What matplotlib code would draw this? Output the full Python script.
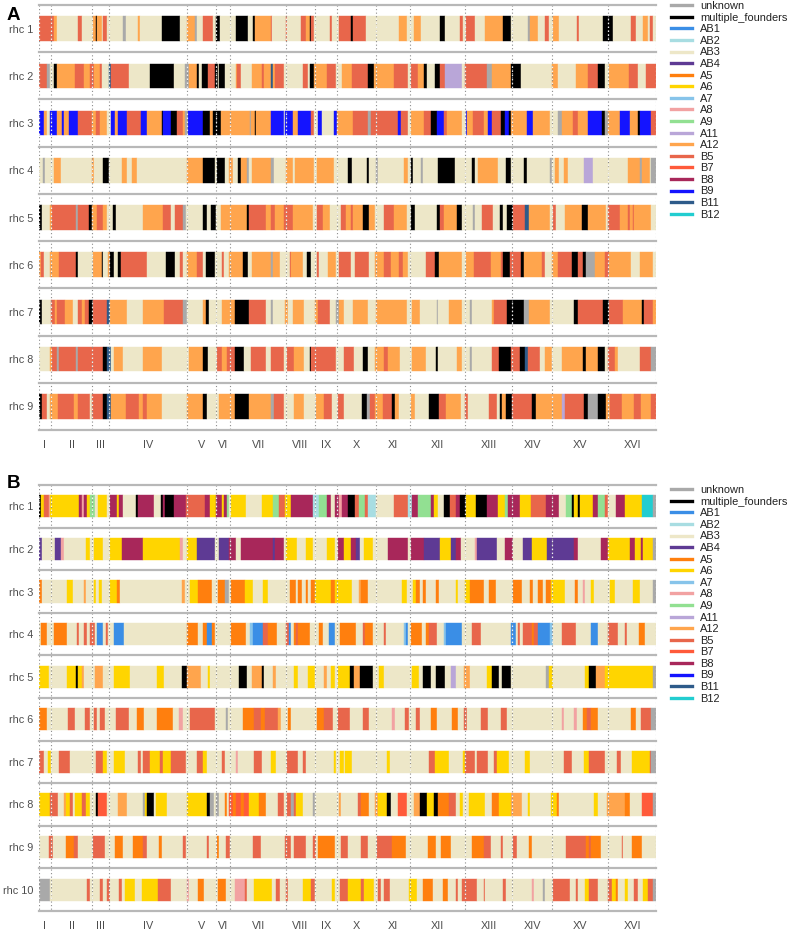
import numpy as np
import matplotlib
matplotlib.use('Agg')
import matplotlib.pyplot as plt
from matplotlib.lines import Line2D

plt.rcParams['font.family'] = ['Liberation Sans', 'DejaVu Sans']

# yeast chromosomes, lengths in Mb
chrom_names = ['I', 'II', 'III', 'IV', 'V', 'VI', 'VII', 'VIII', 'IX', 'X',
               'XI', 'XII', 'XIII', 'XIV', 'XV', 'XVI']
chrom_len = [0.230, 0.813, 0.317, 1.532, 0.577, 0.270, 1.091, 0.563, 0.440,
             0.746, 0.667, 1.078, 0.924, 0.784, 1.091, 0.948]

founders = ['unknown', 'multiple_founders', 'AB1', 'AB2', 'AB3', 'AB4', 'A5',
            'A6', 'A7', 'A8', 'A9', 'A11', 'A12', 'B5', 'B7', 'B8', 'B9',
            'B11', 'B12']
founder_codes = 'UMPQZVOYKIGLCRSTBDE'
founder_colors = ['#a9a9a9', '#000000', '#3a8ee6', '#a8dde2', '#ede7c8',
                  '#5e3a94', '#ff7f0e', '#ffd500', '#87c4ea', '#f2a2a2',
                  '#92e092', '#b9a6d8', '#ffa54d', '#e8664b', '#ff5a3a',
                  '#a8275a', '#1414ff', '#2e5b8a', '#22cdd0']

# mosaic tracks: founder code followed by segment end (Mb, genome coordinate)
panel_a = [
    "R.30 C.36 Z.77 R.84 Z1.05 C1.12 M1.14 C1.23 Z1.26 R1.33 Z1.65 U1.70 Z1.94 C1.98 Z2.40 M2.76 Z2.90 C3.05 U3.09 Z3.21 R3.41 Z3.46 M3.54 Z3.85 M4.09 Z4.19 M4.23 C4.53 R4.56 Z4.83 R4.85 Z5.13 R5.22 C5.29 M5.32 R5.37 Z5.68 R5.72 Z5.87 R6.10 M6.14 R6.39 Z7.04 C7.20 Z7.34 C7.46 Z7.84 M7.93 Z8.23 R8.28 Z8.34 R8.53 Z8.72 C9.08 M9.23 Z9.55 U9.60 C9.76 Z9.90 R9.96 Z10.05 C10.16 Z10.51 R10.55 Z11.03 M11.22 Z11.58 R11.68 Z11.81 C11.91 Z11.94 R12.00 Z12.07",
    "R.16 U.21 Z.30 M.36 C.71 R.87 C1.00 R1.08 C1.20 R1.23 Z1.36 D1.40 R1.75 Z2.17 M2.63 Z2.85 U2.94 C3.08 M3.13 Z3.18 M3.31 R3.44 M3.50 Z3.52 M3.63 Z3.85 C3.87 R3.94 Z4.16 C4.36 R4.39 C4.53 D4.57 C4.62 R4.79 Z5.16 R5.26 Z5.30 M5.37 C5.63 R5.81 Z5.92 C6.11 R6.44 M6.54 C6.93 R7.22 Z7.27 R7.40 C7.52 M7.58 Z7.74 M7.84 R7.94 L8.27 Z8.32 R8.75 U8.85 C9.23 M9.42 Z10.02 C10.14 Z10.49 C10.74 R10.93 M11.07 Z11.14 C11.53 R11.71 Z11.87 R12.07",
    "B.10 C.16 Z.22 B.35 C.45 B.49 C.58 B.77 R1.03 C1.12 R1.20 C1.33 Z1.40 B1.49 C1.54 B1.72 R1.99 B2.12 C2.40 M2.43 B2.59 M2.69 R2.81 C2.85 U2.92 B3.21 M3.34 C3.41 M3.55 C4.12 U4.15 C4.22 M4.24 C4.53 B4.79 Z4.81 B4.96 C5.07 B5.31 R5.37 Z5.46 B5.53 Z5.76 B5.83 C6.13 R6.44 U6.49 R7.02 B7.08 R7.22 Z7.27 C7.53 R7.66 M7.78 B7.92 R7.98 C8.27 Z8.34 B8.36 C8.49 R8.69 C8.77 B8.86 R9.03 M9.10 B9.19 M9.23 C9.53 B9.65 C9.99 Z10.15 U10.23 C10.44 R10.54 C10.74 B11.00 M11.06 U11.13 C11.35 B11.55 C11.70 M11.74 B11.97 R12.07",
    "Z.08 U.11 Z.30 C.43 Z1.03 C1.08 Z1.26 M1.36 Z1.62 C1.72 Z1.81 C1.91 Z2.89 C3.20 M3.44 Z3.47 M3.63 Z3.72 C3.80 Z3.89 M3.94 C4.07 U4.10 Z4.16 C4.54 U4.59 Z4.83 C4.96 Z5.01 C5.37 Z5.44 C5.76 Z6.05 M6.11 Z6.41 M6.46 Z6.59 U6.62 Z7.13 C7.22 Z7.27 M7.32 Z7.46 U7.50 Z7.80 M8.14 Z8.46 M8.53 Z8.59 C8.97 Z9.12 M9.23 Z9.49 M9.53 Z9.99 U10.02 Z10.09 C10.16 Z10.27 C10.35 Z10.66 L10.83 Z11.52 C11.74 U11.78 C11.94 Z11.97 U12.07",
    "M.06 Z.22 C.25 R.73 U.77 R.97 M1.03 C1.13 R1.26 C1.33 Z1.44 M1.51 Z2.04 C2.43 R2.59 Z2.66 R2.82 U2.87 Z3.21 M3.29 Z3.37 M3.46 Z3.55 C4.07 M4.10 R4.44 C4.54 R4.61 C4.79 R4.96 C5.35 Z5.44 R5.55 C5.68 Z5.91 R6.00 C6.09 R6.13 C6.33 M6.46 C6.57 Z6.75 R6.93 C7.19 Z7.27 M7.35 Z7.78 M7.84 R7.92 C8.17 M8.27 Z8.49 U8.53 Z8.66 R8.88 Z9.01 M9.08 Z9.14 M9.27 R9.50 D9.57 C9.99 Z10.05 R10.10 Z10.28 C10.62 M10.74 C11.09 Z11.13 R11.35 C11.52 R11.55 C11.61 R11.63 C11.97 Z12.07",
    "C.04 R.09 Z.22 C.40 R.73 M.77 Z1.05 C1.23 M1.26 Z1.34 C1.39 M1.47 Z1.55 M1.60 R2.11 Z2.48 M2.66 Z2.76 R2.82 Z2.89 C3.08 R3.21 Z3.26 M3.44 Z3.57 R3.61 Z3.72 C3.99 M4.09 Z4.16 C4.53 U4.57 C4.72 Z4.90 R4.93 C5.16 Z5.24 M5.32 Z5.44 R5.48 Z5.65 C5.81 Z5.87 R6.10 Z6.17 R6.46 Z6.56 C6.75 R6.88 C7.04 R7.11 C7.22 Z7.56 R7.74 M7.82 C8.27 Z8.34 C8.51 R8.84 C9.03 R9.08 M9.21 R9.42 M9.49 C9.83 R9.90 Z10.02 C10.15 R10.42 M10.53 R10.64 M10.70 U10.87 C11.07 R11.14 C11.58 Z11.74 C12.00 Z12.07",
    "M.06 Z.23 R.32 C.36 R.51 C.66 Z.77 R.84 C.90 R.97 M1.05 R1.33 D1.39 C1.72 Z2.04 C2.44 R2.82 U2.89 Z3.20 C3.26 M3.33 Z3.57 C3.83 M4.10 R4.44 Z4.54 U4.57 Z4.81 C4.86 Z4.96 C5.19 Z5.39 C5.45 R5.68 Z5.81 U5.87 C5.97 Z6.13 C6.44 Z6.59 C7.20 Z7.30 C7.45 Z7.78 U7.80 Z8.02 C8.27 Z8.43 U8.46 Z8.85 C8.90 R9.14 M9.49 U9.58 C9.99 Z10.46 M10.54 R11.03 M11.14 R11.42 C11.78 M11.83 R12.00 C12.07",
    "Z.22 C.25 R.36 U.40 R.73 U.77 R1.26 M1.33 D1.40 Z1.47 C1.65 Z2.03 C2.40 Z2.94 C3.21 M3.31 Z3.47 R3.57 C3.67 R3.83 M4.00 Z4.15 R4.44 Z4.54 R4.79 Z4.85 R4.98 C5.19 Z5.29 M5.32 R5.81 Z5.97 R6.15 Z6.33 M6.44 Z6.57 C6.75 R6.83 C7.06 Z7.30 C7.56 Z7.76 M7.80 Z8.17 C8.27 Z8.43 U8.46 Z8.85 R8.99 M9.23 R9.40 M9.50 D9.55 R9.79 Z9.89 C10.02 Z10.22 C10.64 M10.70 C10.93 M11.07 Z11.13 R11.26 C11.32 Z11.74 R11.97 U12.07",
    "M.06 R.16 Z.22 C.38 R.68 C.77 R.99 Z1.03 R1.26 M1.33 D1.40 C1.70 R1.96 C2.03 R2.11 C2.40 Z2.89 C3.21 M3.28 Z3.52 C3.83 M4.10 C4.54 U4.59 R4.79 Z4.99 C5.19 Z5.42 C5.58 R5.72 Z5.84 R5.97 Z6.31 M6.41 U6.48 R6.56 C6.72 R6.91 M6.96 C7.04 Z7.27 C7.35 Z7.63 M7.82 R7.95 C8.25 Z8.33 R8.38 Z8.80 R8.95 Z9.01 M9.06 C9.12 M9.24 R9.63 M9.71 C10.22 L10.28 R10.66 M10.74 U10.93 M11.09 C11.16 R11.39 C11.63 R11.76 C11.97 R12.07",
]

panel_b = [
    "M.04 Y.09 R.19 I.22 Y.79 T.84 I.87 T.94 Y1.00 G1.10 Z1.16 Y1.33 Z1.38 T1.52 Y1.57 T1.64 Z1.90 M1.94 T2.24 Z2.38 M2.43 T2.46 M2.64 T2.87 R3.24 T3.34 Y3.46 T3.57 Y3.61 T3.67 G3.72 Z3.76 Y4.05 Z4.35 Y4.57 G4.70 R4.80 Y4.93 T5.35 Q5.48 G5.63 T5.71 Z5.79 T5.87 I5.92 T6.04 M6.17 R6.26 G6.37 R6.43 Q6.59 Z6.93 R7.22 Q7.30 T7.40 G7.66 T7.73 Y7.79 Z7.92 M8.04 R8.15 T8.23 M8.34 Y8.54 M8.75 T8.97 Y9.10 G9.16 T9.40 Y9.62 R9.92 T10.16 Z10.31 G10.41 M10.46 Y10.54 M10.57 Y10.83 T10.93 G11.07 R11.13 Z11.27 T11.46 Y11.78 E12.00 U12.07",
    "V.06 Z.32 V.43 I.48 Z.92 Y.99 Z1.07 Y1.26 Z1.39 Y1.62 T2.04 Y2.76 I2.82 Z2.89 Y3.08 V3.44 Z3.52 V3.72 T3.86 Z3.94 T4.57 V4.62 T4.79 Z4.83 Y5.05 Z5.22 Y5.35 Z5.63 Y5.78 Z5.84 T5.96 Y6.09 T6.20 V6.28 Z6.35 Y6.52 Z6.82 T7.22 Z7.28 T7.52 V7.84 Y8.05 V8.15 T8.25 Z8.53 I8.56 V8.95 Z9.10 T9.27 Z9.47 V9.63 Y9.94 V10.46 T10.54 Z10.98 T11.13 Y11.55 T11.65 Y11.76 T11.81 Y12.00 U12.07",
    "O.06 Z.55 Y.66 Z.87 C.92 Z1.07 Y1.12 Z1.18 Y1.23 Z1.39 Y1.52 O1.59 Z2.79 C2.85 Z2.95 Y3.11 O3.39 Z3.50 O3.63 U3.72 Z3.76 O4.02 Y4.18 Z4.38 Y4.48 Z4.90 O5.03 Z5.07 O5.14 Z5.22 O5.26 Z5.32 O5.40 Y5.70 O5.79 Y6.11 Z6.26 C6.30 O6.43 Z7.09 Y7.20 Z7.32 Y7.37 O7.45 Z7.50 O7.56 Z7.76 O7.82 Z8.15 Y8.20 Z8.33 Y8.43 O8.69 Z8.80 O8.93 Z9.27 O9.44 Z9.60 O9.66 Z9.75 O9.86 Z9.92 O10.01 Y10.28 Z10.48 O10.53 Z10.64 I10.67 Z10.79 Y10.85 Z11.16 Y11.26 Z11.61 Y11.74 Z12.00 U12.07",
    "Z.04 O.16 Z.29 O.55 Z.75 R.79 Z.87 R.94 Z1.00 R1.10 Z1.14 P1.26 Z1.31 R1.34 Z1.46 P1.66 Z2.89 O3.11 Z3.20 O3.28 P3.39 O3.44 Z3.76 O4.05 Z4.12 K4.18 P4.38 R4.48 O4.66 Z4.83 R4.88 P4.93 Z4.98 O5.03 R5.06 O5.29 Z5.48 O5.55 Z5.66 P5.79 Z5.89 O6.20 Z6.33 R6.37 O6.52 Z6.74 R6.78 Z7.13 K7.17 P7.22 Z7.27 O7.48 Z7.56 O7.63 R7.78 Z7.91 K7.95 P8.27 Z8.47 R8.64 Z9.23 P9.32 Z9.37 R9.40 Z9.47 R9.63 O9.68 R9.75 P9.99 K10.05 Z10.22 R10.49 Z10.80 P10.93 Z11.13 R11.31 Z11.45 R11.50 Z11.72 O11.84 Z12.07",
    "Y.19 Z.55 Y.73 M.77 Y.84 C.87 Z1.10 C1.25 Z1.47 Y1.77 Z2.31 Y2.44 Z2.79 M2.89 C3.16 Z3.31 Y3.34 Z3.91 M4.06 Z4.16 C4.35 M4.40 Z4.57 C4.64 Z4.98 Y5.06 Z5.26 Y5.39 Z5.58 C5.63 Z5.70 Y5.79 Z5.85 Y6.07 M6.15 C6.28 M6.52 Z6.65 Y6.75 Z7.30 Y7.43 Z7.50 M7.66 Z7.76 M7.93 Z8.05 L8.15 Z8.30 C8.43 Z8.75 Y8.86 M8.99 Z9.06 M9.23 Z9.92 U9.97 Y10.05 Z10.68 Y10.75 M10.88 C11.06 Y12.00 U12.07",
    "O.16 Z.56 R.71 Z.90 R.99 Z1.08 R1.14 Z1.20 R1.29 Z1.51 R1.75 Z1.91 O2.05 Z2.31 O2.61 Z2.74 I2.81 Z2.96 R3.44 Z3.65 U3.70 Z3.99 O4.20 R4.33 O4.42 R4.67 C4.74 Z4.87 O4.93 Z5.44 O5.58 R5.74 Z5.85 R6.07 Z6.33 R6.46 Z6.91 I6.96 Z7.15 R7.24 Z7.37 R7.45 Z7.66 O7.78 Z8.08 O8.20 Z8.30 R8.36 Z8.64 R8.77 Z9.03 R9.14 Z10.22 I10.27 Z10.46 I10.51 Z10.64 O10.72 R10.80 O10.92 Z11.58 O11.68 Z11.76 R11.97 U12.07",
    "R.09 Z.17 Y.23 Z.40 R.61 Z1.12 R1.25 Y1.33 Z1.46 Y1.68 Z1.94 R1.99 Z2.04 R2.17 Y2.37 R2.43 Y2.59 R2.87 Z3.09 R3.21 Y3.28 Z3.57 R3.63 Z3.85 I3.89 Z4.20 R4.36 Z4.53 Y4.64 Z4.85 R5.06 Z5.16 R5.22 Z5.76 Y5.81 Z5.89 Y5.96 Z5.98 Y6.11 Z6.80 Y6.87 Z7.63 R7.74 Y8.02 Z8.28 Y8.33 R8.53 Z8.56 R8.77 Z8.90 R8.95 Y9.19 Z9.51 Y9.60 Z10.27 R10.42 Z10.66 Y10.75 R11.07 Z11.29 R11.37 Z11.59 Y11.94 R11.97 U12.07",
    "Y.21 R.38 Z.48 C.53 Y.60 R.66 Z.71 Y.84 R.92 Y1.00 Z1.12 M1.16 S1.33 Z1.55 C1.72 Z2.03 U2.07 Y2.12 M2.25 Z2.29 Y2.50 Z2.89 Y3.28 M3.34 U3.42 Z3.46 U3.52 Z3.63 O3.67 Z3.72 S3.80 O3.86 S3.94 O4.00 S4.10 Y4.31 O4.44 Z4.67 R4.79 Z4.85 R4.93 U4.98 R5.03 Y5.16 Z5.35 U5.39 Z5.87 C5.91 Z6.23 R6.30 O6.46 Z6.57 C6.63 Y6.80 M6.88 Z7.02 S7.20 Z7.34 C7.45 M7.58 Y7.73 M7.79 O8.02 R8.15 Z8.23 Y8.28 Z8.41 Y8.72 Z8.85 O8.99 Y9.23 C9.44 Z9.55 Y9.60 Z10.01 Y10.12 O10.16 Z10.85 Y10.93 Z11.11 C11.45 O11.55 Z11.78 S12.00 U12.07",
    "Z.19 R.27 Z.53 O.69 R.77 Z1.05 R1.29 Z1.49 O1.64 Z1.83 O2.04 R2.11 Z2.35 O2.40 Z2.82 R2.87 Z3.28 R3.33 Z3.48 O3.52 Z3.65 R3.73 Z4.18 R4.33 Z4.81 R4.92 Z4.99 R5.22 Z5.35 R5.42 Z5.46 O5.79 Z5.91 R6.05 Z6.30 R6.44 Z6.61 R6.91 O7.17 Z7.60 O7.76 Z7.86 O8.05 Z8.47 O8.69 R8.84 Z9.03 R9.08 Z9.27 R9.34 Z9.58 O9.64 Z10.31 R10.70 O10.75 R10.80 O10.98 Z11.39 R11.42 Z11.59 O11.79 Z12.07",
    "U.22 Z.94 R.99 Z1.20 R1.25 Z1.33 R1.39 Z1.57 R1.62 Z1.68 Y1.88 Z2.01 Y2.33 R2.59 Z2.89 I2.94 Z3.11 O3.22 Z3.50 O3.65 Z3.83 I4.02 R4.07 Z4.20 Y4.55 Z4.64 R4.72 Z4.83 R4.86 Z5.16 Y5.32 R5.40 Z5.72 Y5.78 Z5.89 R6.05 Y6.30 R6.35 Y6.54 Z6.62 R6.69 Z6.75 R6.87 Z7.24 Y7.39 Z7.50 O7.71 Z7.89 O8.00 Z8.15 R8.20 Z8.27 R8.56 Z8.69 R8.72 Z9.08 R9.12 Z9.63 I9.68 Z9.86 U9.89 Z10.05 R10.38 Z10.49 R10.53 Z10.67 Y10.75 R10.93 Z11.13 R11.20 Y11.27 O11.32 Z11.45 Y11.52 Z11.63 R11.71 Z11.81 Y11.91 R12.00 U12.07",
]

color_of = dict(zip(founder_codes, founder_colors))


def parse(track):
    segs = []
    start = 0.0
    for tok in track.split():
        code, end = tok[0], float(tok[1:])
        if end > start:
            segs.append((start, end, code))
            start = end
    return segs


W, H = 792, 933
fig = plt.figure(figsize=(W / 100, H / 100), dpi=100)

bounds = np.concatenate([[0], np.cumsum(chrom_len)])
mids = bounds[:-1] + np.array(chrom_len) / 2


def draw_panel(tracks, top, bottom, letter, letter_y, leg_top):
    ax = fig.add_axes([39 / W, 1 - bottom / H, (656.5 - 39) / W, (bottom - top) / H])
    n = len(tracks)
    band = 0.52
    for i, tr in enumerate(tracks):
        segs = parse(tr)
        left = [s[0] for s in segs]
        width = [s[1] - s[0] for s in segs]
        cols = [color_of[s[2]] for s in segs]
        ax.barh(i + 0.5, width, left=left, height=band, color=cols,
                edgecolor=cols, linewidth=0.3, zorder=2)
        ax.vlines(bounds, i + 0.5 - band / 2, i + 0.5 + band / 2, colors='white',
                  linestyles=(1.5, (1, 2.2)), lw=0.9, zorder=4)
    ax.vlines(bounds, 0, n, colors='#8c8c8c', linestyles=(0, (1, 2.2)), lw=0.8, zorder=3)
    for k in range(n + 1):
        ax.axhline(k, color='#b8b8b8', lw=1.6, zorder=5, clip_on=False)
    ax.set_xlim(0, bounds[-1])
    ax.set_ylim(n, 0)
    ax.set_xticks(mids, chrom_names)
    ax.set_yticks(np.arange(n) + 0.5, ['rhc %d' % (i + 1) for i in range(n)])
    ax.tick_params(axis='x', length=0, labelsize=7.8, labelcolor='#4d4d4d', pad=7.5)
    ax.tick_params(axis='y', length=0, labelsize=7.8, labelcolor='#4d4d4d', pad=4)
    for sp in ax.spines.values():
        sp.set_visible(False)
    fig.text(7 / W, 1 - letter_y / H, letter, fontsize=13.5, fontweight='bold',
             va='baseline', ha='left')

    handles = [Line2D([], [], color=c, lw=2.4) for c in founder_colors]
    fig.legend(handles, founders, loc='upper left',
               bbox_to_anchor=(671 / W, 1 - leg_top / H), frameon=False,
               fontsize=7.9, handlelength=1.9, handletextpad=0.75,
               labelspacing=0.145, borderpad=0, borderaxespad=0,
               labelcolor='#222222')
    return ax


draw_panel(panel_a, 5, 430, 'A', 20, 1)
draw_panel(panel_b, 485, 911, 'B', 488, 485)

fig.savefig('out.png', dpi=100)
